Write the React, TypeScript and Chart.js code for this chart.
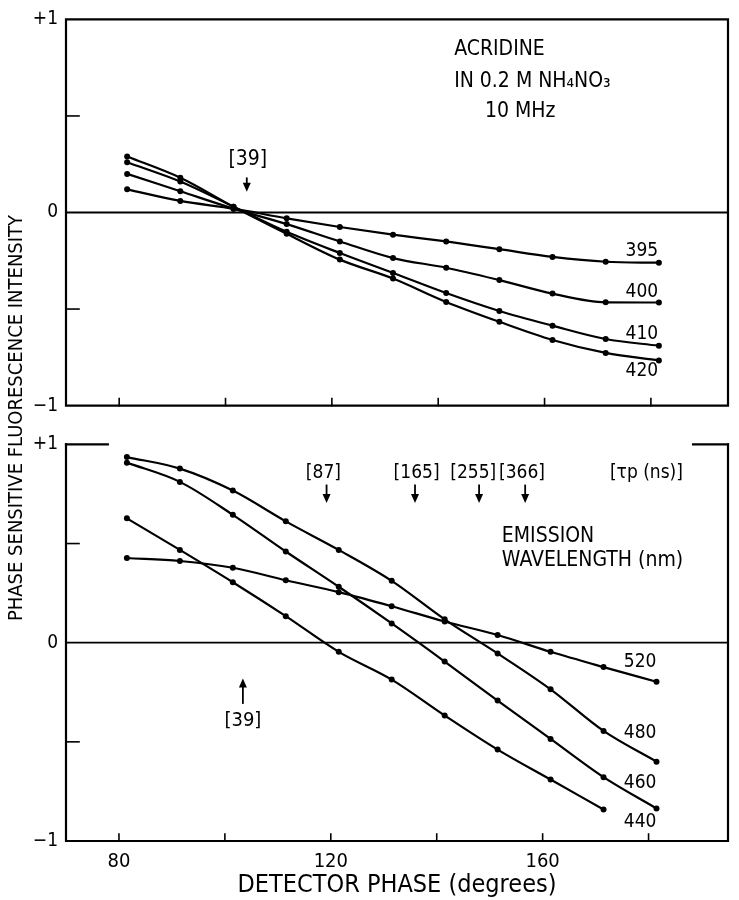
import React, { useEffect, useRef } from 'react';
import { Chart, registerables } from 'chart.js';

Chart.register(...registerables);

const FONT = '"DejaVu Sans Condensed", "Liberation Sans Narrow", "DejaVu Sans", sans-serif';

// ---- data ----
const phase = [81.5, 91.5, 101.5, 111.5, 121.5, 131.5, 141.5, 151.5, 161.5, 171.5, 181.5];
const phase440 = [81.5, 91.5, 101.5, 111.5, 121.5, 131.5, 141.5, 151.5, 161.5, 171.5];

// top panel: acridine in 0.2 M NH4NO3, 10 MHz
const top395 = [0.12, 0.06, 0.02, -0.03, -0.075, -0.115, -0.15, -0.19, -0.23, -0.255, -0.26];
const top400 = [0.2, 0.11, 0.02, -0.06, -0.15, -0.236, -0.286, -0.35, -0.42, -0.465, -0.466];
const top410 = [0.26, 0.16, 0.03, -0.1, -0.21, -0.313, -0.417, -0.51, -0.586, -0.655, -0.69];
const top420 = [0.29, 0.18, 0.03, -0.11, -0.244, -0.342, -0.463, -0.566, -0.66, -0.727, -0.766];

// bottom panel: emission wavelength series
const bot520 = [0.427, 0.412, 0.378, 0.315, 0.255, 0.184, 0.107, 0.039, -0.046, -0.123, -0.197];
const bot480 = [0.936, 0.878, 0.767, 0.612, 0.468, 0.312, 0.118, -0.054, -0.235, -0.445, -0.6];
const bot460 = [0.908, 0.811, 0.645, 0.46, 0.282, 0.097, -0.095, -0.292, -0.485, -0.678, -0.836];
const bot440 = [0.627, 0.468, 0.305, 0.134, -0.046, -0.186, -0.367, -0.539, -0.69, -0.841];

const xTickValues = [80, 100, 120, 140, 160, 180];
const xTickLabels = [80, 120, 160];
const yTickValues = [-1, -0.5, 0, 0.5, 1];
const yTickLabels: Record<string, string> = { '1': '+1', '0': '0', '-1': '\u22121' };

// ---- annotations (in data coordinates) ----
type Txt = { x: number; y: number; text: string; align: CanvasTextAlign; size: number };
type Arrow = { x: number; from: number; to: number };

const topTexts: Txt[] = [
  { x: 143.0, y: 0.843, text: 'ACRIDINE', align: 'left', size: 21 },
  { x: 143.0, y: 0.677, text: 'IN 0.2 M NH\u2084NO\u2083', align: 'left', size: 21 },
  { x: 148.8, y: 0.525, text: '10 MHz', align: 'left', size: 21 },
  { x: 104.2, y: 0.273, text: '[39]', align: 'center', size: 21 },
  { x: 178.3, y: -0.2, text: '395', align: 'center', size: 19 },
  { x: 178.3, y: -0.41, text: '400', align: 'center', size: 19 },
  { x: 178.3, y: -0.63, text: '410', align: 'center', size: 19 },
  { x: 178.3, y: -0.82, text: '420', align: 'center', size: 19 },
];
const topArrows: Arrow[] = [{ x: 104.0, from: 0.177, to: 0.108 }];

const botTexts: Txt[] = [
  { x: 118.6, y: 0.857, text: '[87]', align: 'center', size: 19 },
  { x: 136.2, y: 0.857, text: '[165]', align: 'center', size: 19 },
  { x: 146.9, y: 0.857, text: '[255]', align: 'center', size: 19 },
  { x: 156.1, y: 0.857, text: '[366]', align: 'center', size: 19 },
  { x: 179.6, y: 0.857, text: '[\u03C4p (ns)]', align: 'center', size: 19 },
  { x: 152.3, y: 0.536, text: 'EMISSION', align: 'left', size: 21 },
  { x: 152.3, y: 0.412, text: 'WAVELENGTH (nm)', align: 'left', size: 21 },
  { x: 103.4, y: -0.393, text: '[39]', align: 'center', size: 20 },
  { x: 178.4, y: -0.098, text: '520', align: 'center', size: 19 },
  { x: 178.4, y: -0.457, text: '480', align: 'center', size: 19 },
  { x: 178.4, y: -0.707, text: '460', align: 'center', size: 19 },
  { x: 178.4, y: -0.905, text: '440', align: 'center', size: 19 },
];
const botArrows: Arrow[] = [
  { x: 119.2, from: 0.793, to: 0.704 },
  { x: 135.9, from: 0.793, to: 0.704 },
  { x: 148.0, from: 0.793, to: 0.704 },
  { x: 156.7, from: 0.793, to: 0.704 },
  { x: 103.4, from: -0.304, to: -0.18 },
];
const botTopSegments: [number, number][] = [[70, 77.9], [188.4, 195]];

function series(xs: number[], ys: number[], label: string) {
  return {
    label,
    data: ys.map((y, i) => ({ x: xs[i], y })),
    borderColor: '#000',
    borderWidth: 2.2,
    pointRadius: 3,
    pointBackgroundColor: '#000',
    pointBorderWidth: 0,
    cubicInterpolationMode: 'monotone' as const,
    fill: false,
  };
}

function decorPlugin(texts: Txt[], arrows: Arrow[], fullFrame: boolean, topSegs: [number, number][]) {
  return {
    id: 'decor',
    beforeDatasetsDraw(chart: any) {
      const { ctx, chartArea, scales } = chart;
      const y0 = scales.y.getPixelForValue(0);
      ctx.save();
      ctx.strokeStyle = '#000';
      ctx.lineWidth = 1.8;
      ctx.beginPath();
      ctx.moveTo(chartArea.left, y0);
      ctx.lineTo(chartArea.right, y0);
      ctx.stroke();
      ctx.restore();
    },
    afterDatasetsDraw(chart: any) {
      const { ctx, chartArea: a, scales } = chart;
      const px = (v: number) => scales.x.getPixelForValue(v);
      const py = (v: number) => scales.y.getPixelForValue(v);
      ctx.save();
      ctx.strokeStyle = '#000';
      ctx.fillStyle = '#000';
      ctx.lineWidth = 2.2;
      ctx.lineCap = 'square';
      // frame
      ctx.beginPath();
      ctx.moveTo(a.left, a.top);
      ctx.lineTo(a.left, a.bottom);
      ctx.lineTo(a.right, a.bottom);
      ctx.lineTo(a.right, a.top);
      if (fullFrame) ctx.lineTo(a.left, a.top);
      ctx.stroke();
      topSegs.forEach(([s, e]) => {
        ctx.beginPath();
        ctx.moveTo(px(s), a.top);
        ctx.lineTo(px(e), a.top);
        ctx.stroke();
      });
      // inward ticks
      ctx.lineWidth = 1.6;
      scales.y.ticks.forEach((t: any) => {
        if (Math.abs(t.value) === 0.5) {
          const y = py(t.value);
          ctx.beginPath();
          ctx.moveTo(a.left, y);
          ctx.lineTo(a.left + 13, y);
          ctx.stroke();
        }
      });
      scales.x.ticks.forEach((t: any) => {
        const x = px(t.value);
        ctx.beginPath();
        ctx.moveTo(x, a.bottom);
        ctx.lineTo(x, a.bottom - 7);
        ctx.stroke();
      });
      // arrows
      arrows.forEach((ar) => {
        const x = px(ar.x);
        const y1 = py(ar.from);
        const y2 = py(ar.to);
        const dir = y2 > y1 ? 1 : -1;
        ctx.lineWidth = 1.8;
        ctx.beginPath();
        ctx.moveTo(x, y1);
        ctx.lineTo(x, y2 - dir * 6);
        ctx.stroke();
        ctx.beginPath();
        ctx.moveTo(x, y2);
        ctx.lineTo(x - 4, y2 - dir * 9);
        ctx.lineTo(x + 4, y2 - dir * 9);
        ctx.closePath();
        ctx.fill();
      });
      // texts
      ctx.textBaseline = 'middle';
      texts.forEach((t) => {
        ctx.font = `${t.size}px ${FONT}`;
        ctx.textAlign = t.align;
        ctx.fillText(t.text, px(t.x), py(t.y));
      });
      ctx.restore();
    },
  };
}

function yScale() {
  return {
    type: 'linear' as const,
    min: -1,
    max: 1,
    grid: { display: false, drawTicks: false },
    border: { display: false },
    ticks: {
      padding: 8,
      color: '#000',
      font: { size: 19, family: FONT },
      callback: (v: any) => yTickLabels[String(v)] ?? '',
    },
    afterBuildTicks: (s: any) => {
      s.ticks = yTickValues.map((v) => ({ value: v }));
    },
    afterFit: (s: any) => {
      s.width = 66;
    },
  };
}

export default function App() {
  const topRef = useRef<HTMLCanvasElement>(null);
  const botRef = useRef<HTMLCanvasElement>(null);

  useEffect(() => {
    const top = new Chart(topRef.current!, {
      type: 'line',
      data: {
        datasets: [
          series(phase, top395, '395'),
          series(phase, top400, '400'),
          series(phase, top410, '410'),
          series(phase, top420, '420'),
        ],
      },
      options: {
        responsive: false,
        animation: false,
        layout: { padding: { top: 14, right: 11, left: 0, bottom: 0 } },
        plugins: { legend: { display: false }, tooltip: { enabled: false } },
        scales: {
          x: {
            type: 'linear',
            min: 70,
            max: 194.5,
            grid: { display: false, drawTicks: false },
            border: { display: false },
            ticks: { display: false },
            afterBuildTicks: (s: any) => {
              s.ticks = xTickValues.map((v) => ({ value: v }));
            },
            afterFit: (s: any) => {
              s.height = 15;
            },
          },
          y: yScale(),
        },
      } as any,
      plugins: [decorPlugin(topTexts, topArrows, true, [])],
    });

    const bot = new Chart(botRef.current!, {
      type: 'line',
      data: {
        datasets: [
          series(phase, bot520, '520'),
          series(phase, bot480, '480'),
          series(phase, bot460, '460'),
          series(phase440, bot440, '440'),
        ],
      },
      options: {
        responsive: false,
        animation: false,
        layout: { padding: { top: 11, right: 11, left: 0, bottom: 0 } },
        plugins: { legend: { display: false }, tooltip: { enabled: false } },
        scales: {
          x: {
            type: 'linear',
            min: 70,
            max: 195,
            grid: { display: false, drawTicks: false },
            border: { display: false },
            ticks: {
              padding: 9,
              color: '#000',
              autoSkip: false,
              maxRotation: 0,
              font: { size: 20, family: FONT },
              callback: (v: any) => (xTickLabels.includes(Number(v)) ? String(v) : ''),
            },
            title: {
              display: true,
              text: 'DETECTOR PHASE (degrees)',
              color: '#000',
              font: { size: 25, family: FONT },
              padding: { top: 0, bottom: 0 },
            },
            afterBuildTicks: (s: any) => {
              s.ticks = xTickValues.map((v) => ({ value: v }));
            },
            afterFit: (s: any) => {
              s.height = 59;
            },
          },
          y: yScale(),
        },
      } as any,
      plugins: [decorPlugin(botTexts, botArrows, false, botTopSegments)],
    });

    return () => {
      top.destroy();
      bot.destroy();
    };
  }, []);

  return (
    <div style={{ position: 'absolute', left: 0, top: 0, width: 739, height: 900, background: '#fff', overflow: 'hidden' }}>
      <canvas ref={topRef} width={739} height={425} style={{ position: 'absolute', left: 0, top: 0, display: 'block' }} />
      <canvas ref={botRef} width={739} height={475} style={{ position: 'absolute', left: 0, top: 425, display: 'block' }} />
      <div
        style={{
          position: 'absolute',
          left: 15 - 260,
          top: 418 - 12,
          width: 520,
          height: 24,
          lineHeight: '24px',
          textAlign: 'center',
          transform: 'rotate(-90deg)',
          transformOrigin: '50% 50%',
          fontFamily: FONT,
          fontSize: 20,
          color: '#000',
          whiteSpace: 'nowrap',
        }}
      >
        PHASE SENSITIVE FLUORESCENCE INTENSITY
      </div>
    </div>
  );
}
